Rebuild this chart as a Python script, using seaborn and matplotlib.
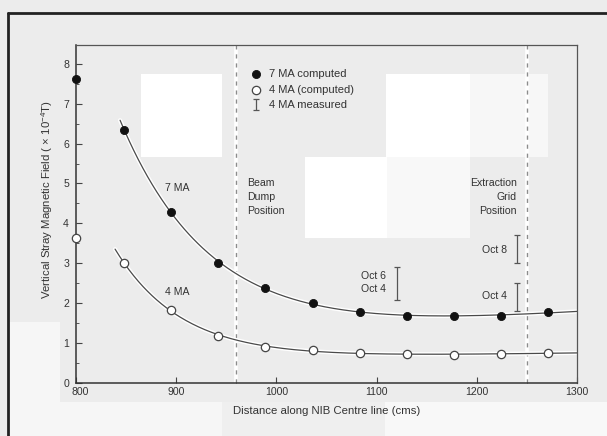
import numpy as np
import pandas as pd
import seaborn as sns
import matplotlib
matplotlib.use("Agg")
import matplotlib.pyplot as plt
from matplotlib.patches import Rectangle
from matplotlib.lines import Line2D
from matplotlib.transforms import ScaledTranslation

# ---------------- data ----------------
x_axis_pt = [800]
ma7_axis = [7.63]
ma4_axis = [3.63]

x_pts = [848, 895, 942, 989, 1037, 1083, 1130, 1177, 1224, 1271]
ma7_computed = [6.35, 4.28, 3.00, 2.38, 2.00, 1.78, 1.68, 1.68, 1.68, 1.78]
ma4_computed = [3.00, 1.83, 1.18, 0.90, 0.83, 0.75, 0.73, 0.70, 0.73, 0.75]

meas_x = [1120, 1240, 1240]
meas_lo = [2.08, 3.00, 1.80]
meas_hi = [2.90, 3.70, 2.50]

beam_dump_x = 960
extraction_grid_x = 1250

x_ticks = [800, 900, 1000, 1100, 1200, 1300]
y_ticks = [0, 1, 2, 3, 4, 5, 6, 7, 8]

curve_start = {"7 MA": 844, "4 MA": 839}

# ---------------- style ----------------
sns.set_theme(style="ticks")
plt.rcParams["font.family"] = ["Liberation Sans", "DejaVu Sans"]
plt.rcParams["mathtext.fontset"] = "custom"
plt.rcParams["mathtext.rm"] = "Liberation Sans"
plt.rcParams["mathtext.it"] = "Liberation Sans"
FS = 7.6
FS_LAB = 8.2
BG = "#ececec"

fig = plt.figure(figsize=(6.07, 4.36), dpi=100, facecolor=BG)
ax = fig.add_axes([76 / 607, 1 - 383 / 436, (577 - 76) / 607, (383 - 45) / 436])
ax.set_facecolor("none")

# scan artefacts (lighter patches) in figure pixel space
def patch(x0, y0, x1, y1, color):
    fig.add_artist(Rectangle((x0 / 607, 1 - y1 / 436), (x1 - x0) / 607, (y1 - y0) / 436,
                             transform=fig.transFigure, facecolor=color,
                             edgecolor="none", zorder=-5))

patch(141, 74, 222, 157, "#ffffff")
patch(386, 74, 470, 157, "#ffffff")
patch(470, 74, 548, 157, "#f7f7f7")
patch(305, 157, 387, 238, "#ffffff")
patch(387, 157, 470, 238, "#f8f8f8")
patch(8, 322, 60, 436, "#f6f6f6")
patch(60, 402, 222, 436, "#f6f6f6")
patch(222, 402, 385, 436, "#efefef")
patch(385, 402, 607, 436, "#f8f8f8")

# outer frame of the scanned page
fig.add_artist(Line2D([8 / 607, 1], [1 - 13 / 436, 1 - 13 / 436], transform=fig.transFigure,
                      color="#222222", lw=2.0, zorder=-4))
fig.add_artist(Line2D([8 / 607, 8 / 607], [0, 1 - 13 / 436], transform=fig.transFigure,
                      color="#222222", lw=2.0, zorder=-4))

# ---------------- fitted smooth curves ----------------
def fit_curve(xs, ys, x0, x1):
    xs = np.asarray(xs, float)
    ys = np.asarray(ys, float)
    best = None
    for k in np.linspace(0.002, 0.05, 400):
        A = np.column_stack([np.ones_like(xs), np.exp(-k * (xs - 800)), xs - 800])
        coef, *_ = np.linalg.lstsq(A, ys, rcond=None)
        err = np.sum((A @ coef - ys) ** 2)
        if best is None or err < best[0]:
            best = (err, k, coef)
    _, k, c = best
    xx = np.linspace(x0, x1, 300)
    yy = c[0] + c[1] * np.exp(-k * (xx - 800)) + c[2] * (xx - 800)
    return xx, yy

curve_rows = []
for name, ys in (("7 MA", ma7_computed), ("4 MA", ma4_computed)):
    xx, yy = fit_curve(x_pts, ys, curve_start[name], 1300)
    curve_rows.append(pd.DataFrame({"x": xx, "y": yy, "series": name}))
curves = pd.concat(curve_rows)

for name in ("7 MA", "4 MA"):
    d = curves[curves.series == name]
    sns.lineplot(data=d, x="x", y="y", ax=ax, color="white", lw=3.0, zorder=2,
                 legend=False, sort=False)
    sns.lineplot(data=d, x="x", y="y", ax=ax, color="#4a4a4a", lw=0.9, zorder=3,
                 legend=False, sort=False)

# dashed position lines
for xv in (beam_dump_x, extraction_grid_x):
    ax.axvline(xv, color="white", lw=2.6, zorder=1)
    ax.axvline(xv, color="#8c8c8c", lw=1.0, ls=(0, (3, 3.5)), zorder=1.5)

# points
h7 = ax.scatter(x_axis_pt + x_pts, ma7_axis + ma7_computed, s=34, color="#111111",
                edgecolor="#111111", linewidth=0.6, zorder=5, clip_on=False)
h4 = ax.scatter(x_axis_pt + x_pts, ma4_axis + ma4_computed, s=36, facecolor="white",
                edgecolor="#444444", linewidth=0.9, zorder=5, clip_on=False)

# measured ranges
mid = [(a + b) / 2 for a, b in zip(meas_lo, meas_hi)]
half = [(b - a) / 2 for a, b in zip(meas_lo, meas_hi)]
hm = ax.errorbar(meas_x, mid, yerr=half, fmt="none", ecolor="#555555",
                 elinewidth=0.9, capsize=2, capthick=0.9, zorder=4)

# ---------------- annotations ----------------
tk = dict(fontsize=FS, color="#333333")
ax.text(889, 4.89, "7 MA", va="center", ha="left", **tk)
ax.text(889, 2.28, "4 MA", va="center", ha="left", **tk)
ax.text(971, 4.66, "Beam\nDump\nPosition", va="center", ha="left",
        linespacing=1.55, **tk)
ax.text(1240, 4.66, "Extraction\nGrid\nPosition", va="center", ha="right",
        multialignment="right", linespacing=1.55, **tk)
ax.text(1084, 2.52, "Oct 6\nOct 4", va="center", ha="left", linespacing=1.45, **tk)
ax.text(1230, 3.33, "Oct 8", va="center", ha="right", **tk)
ax.text(1230, 2.18, "Oct 4", va="center", ha="right", **tk)

leg = ax.legend([h7, h4, hm], ["7 MA computed", "4 MA (computed)", "4 MA measured"],
                loc="upper left", bbox_to_anchor=(0.349, 0.928), frameon=False,
                fontsize=8.0, handlelength=1.0, handletextpad=0.6, labelspacing=0.5,
                borderaxespad=0, borderpad=0)
for t in leg.get_texts():
    t.set_color("#333333")

# ---------------- axes ----------------
ax.set_xlim(800, 1300)
ax.set_ylim(0, 8.47)
ax.set_xticks(x_ticks)
ax.set_xticks([beam_dump_x, extraction_grid_x], minor=True)
ax.set_yticks(y_ticks)
ax.set_yticks(np.arange(0.5, 8.5, 1.0), minor=True)
ax.tick_params(axis="both", which="major", direction="in", length=4, width=0.8,
               labelsize=FS, colors="#444444", labelcolor="#333333", pad=3)
ax.tick_params(axis="y", which="major", pad=5)
ax.tick_params(axis="both", which="minor", direction="in", length=2.5, width=0.7,
               colors="#555555")
for s in ("left", "bottom"):
    ax.spines[s].set_color("#333333")
    ax.spines[s].set_linewidth(1.1)
for s in ("top", "right"):
    ax.spines[s].set_visible(True)
    ax.spines[s].set_color("#555555")
    ax.spines[s].set_linewidth(0.9)

ax.set_xlabel("Distance along NIB Centre line (cms)", fontsize=FS_LAB, color="#333333",
              labelpad=6)
ax.set_ylabel("Vertical Stray Magnetic Field ( × 10$^{-4}$T)", fontsize=FS_LAB,
              color="#333333", labelpad=8)
ax.yaxis.set_label_coords(-0.042, 0.544)

# nudge the first x tick label right, as in the original
fig.canvas.draw()
first = ax.get_xticklabels()[0]
first.set_transform(first.get_transform() + ScaledTranslation(4 / 100, 0, fig.dpi_scale_trans))

fig.savefig("out.png", dpi=100, facecolor=BG)
